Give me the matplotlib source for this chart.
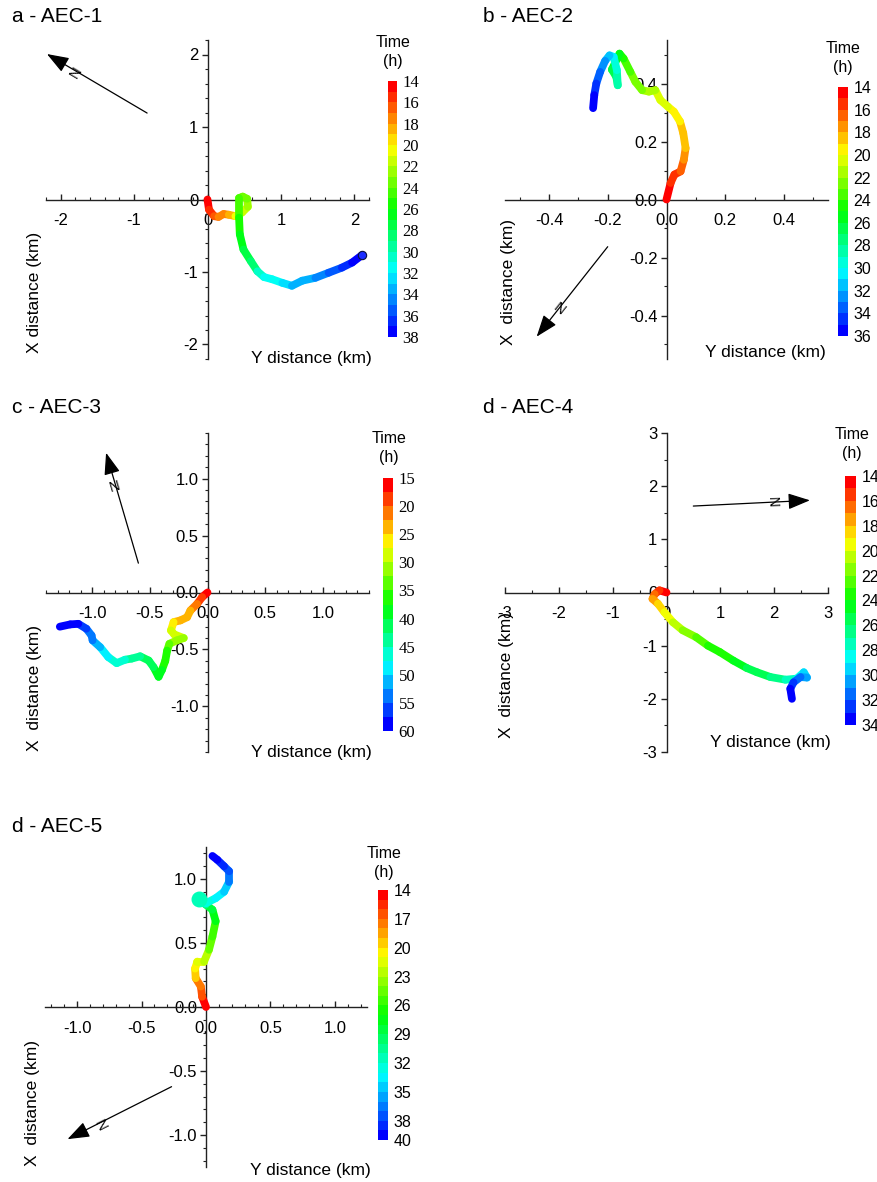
import numpy as np
import matplotlib
matplotlib.use("Agg")
import matplotlib.pyplot as plt
from matplotlib.collections import LineCollection
from matplotlib.colors import ListedColormap, Normalize, hsv_to_rgb
from matplotlib.cm import ScalarMappable
from matplotlib.ticker import MultipleLocator, FormatStrFormatter

plt.rcParams["font.family"] = ["Liberation Sans", "DejaVu Sans"]
plt.rcParams["axes.unicode_minus"] = False

W, H = 877, 1182

# ---- trajectories: Y distance (horizontal), X distance (vertical), time (h)
AEC1_Y = [0, 0.02, 0.09, 0.15, 0.22, 0.29, 0.38, 0.47, 0.55, 0.54, 0.48, 0.43, 0.43, 0.44,
          0.49, 0.59, 0.68, 0.77, 0.88, 1.02, 1.15, 1.29, 1.47, 1.65, 1.83, 1.97, 2.10]
AEC1_X = [0, -0.14, -0.23, -0.24, -0.20, -0.21, -0.23, -0.18, -0.10, 0.01, 0.04, 0.02, -0.25, -0.48,
          -0.69, -0.85, -0.99, -1.07, -1.10, -1.15, -1.19, -1.12, -1.08, -1.01, -0.94, -0.87, -0.77]
AEC1_T = [14, 15, 16, 17, 17.5, 18, 19.5, 20.5, 21.5, 22.5, 23.5, 24, 25, 26,
          27, 28, 29.5, 30.5, 31.5, 32.3, 33, 33.6, 34.2, 35, 36, 37, 38]

AEC2_Y = [0, 0.014, 0.027, 0.048, 0.059, 0.065, 0.057, 0.046, 0.025, 0.005, -0.021, -0.038, -0.06,
          -0.083, -0.106, -0.123, -0.146, -0.16, -0.186, -0.171, -0.166, -0.169, -0.18, -0.194,
          -0.209, -0.226, -0.239, -0.246, -0.25]
AEC2_X = [0, 0.057, 0.086, 0.097, 0.137, 0.177, 0.229, 0.269, 0.303, 0.32, 0.343, 0.377, 0.372,
          0.377, 0.406, 0.44, 0.486, 0.503, 0.448, 0.423, 0.394, 0.446, 0.492, 0.497,
          0.478, 0.44, 0.40, 0.36, 0.315]
AEC2_T = [14, 15, 15.5, 16, 17, 17.5, 18.5, 19, 19.5, 20, 20.5, 21, 21.5,
          22, 22.5, 23, 24, 24.5, 26, 27, 28, 29, 30, 31,
          32, 33, 34, 35, 36]

AEC3_Y = [0, -0.046, -0.09, -0.148, -0.177, -0.235, -0.294, -0.317, -0.288, -0.206, -0.265, -0.33,
          -0.35, -0.366, -0.395, -0.424, -0.468, -0.51, -0.584, -0.657, -0.715, -0.787, -0.86,
          -0.93, -0.996, -1.005, -1.05, -1.12, -1.19, -1.28]
AEC3_X = [0, -0.04, -0.10, -0.158, -0.217, -0.245, -0.26, -0.333, -0.368, -0.40, -0.42, -0.45,
          -0.51, -0.60, -0.68, -0.74, -0.655, -0.597, -0.56, -0.58, -0.59, -0.62, -0.567,
          -0.48, -0.42, -0.377, -0.318, -0.275, -0.28, -0.30]
AEC3_T = [15, 18, 20, 22, 23, 24, 25.5, 27, 28, 30, 31, 32,
          34, 36, 38, 39, 40, 41, 42, 43, 44, 46, 48,
          50, 52, 53, 55, 57, 58.5, 60]

AEC4_Y = [0, -0.13, -0.22, -0.26, -0.16, -0.04, 0.12, 0.30, 0.55, 0.77, 0.99, 1.24, 1.49, 1.68,
          1.93, 2.21, 2.42, 2.55, 2.61, 2.49, 2.36, 2.30, 2.33]
AEC4_X = [0, 0.04, -0.03, -0.12, -0.21, -0.37, -0.56, -0.71, -0.84, -1.0, -1.12, -1.28, -1.42, -1.50,
          -1.59, -1.64, -1.62, -1.50, -1.60, -1.59, -1.69, -1.81, -2.0]
AEC4_T = [14, 15, 16, 17, 18, 19, 20, 21, 22, 22.8, 23.4, 24, 24.7, 25.3,
          26, 27, 28, 29.5, 30, 31, 32, 33, 34]

AEC5_Y = [0, -0.03, -0.04, -0.08, -0.085, -0.067, -0.015, 0.023, 0.05, 0.075, 0.05, -0.002,
          -0.054, -0.002, 0.075, 0.14, 0.18, 0.18, 0.14, 0.088, 0.05]
AEC5_X = [0, 0.08, 0.16, 0.225, 0.30, 0.355, 0.355, 0.447, 0.55, 0.67, 0.76, 0.80,
          0.84, 0.81, 0.85, 0.90, 0.98, 1.06, 1.10, 1.15, 1.18]
AEC5_T = [14, 15, 17, 18.5, 19.5, 20.5, 22, 23.5, 25, 26.5, 28, 30,
          31, 32, 33, 34, 35.5, 37, 38, 39, 40]

# ---- colour bar ticks
CTICKS_1 = list(range(14, 39, 2))
CTICKS_2 = list(range(14, 37, 2))
CTICKS_3 = list(range(15, 61, 5))
CTICKS_4 = list(range(14, 35, 2))
CTICKS_5 = [14, 17, 20, 23, 26, 29, 32, 35, 38, 40]

# ---- layout (pixel boxes in the 877x1182 canvas)
PANELS = [
    dict(title="a - AEC-1", data=(AEC1_Y, AEC1_X, AEC1_T), box=(46, 40, 369, 359), lim=2.2,
         major=1, minor=0.2, fmt="%d", title_xy=(12, 17),
         cbar=(388, 81, 397, 337), crange=(14, 38), cticks=CTICKS_1, nbands=24, cfont="Liberation Serif",
         ctitle_xy=(393, 52), xlabel_xy=(311, 359), ylabel_xy=(35, 292), ylabel="X distance (km)",
         arrow=((0.313, 0.771), (0.003, 0.956)), nlabel=(0.093, 0.90)),
    dict(title="b - AEC-2", data=(AEC2_Y, AEC2_X, AEC2_T), box=(505, 40, 828, 359), lim=0.55,
         major=0.2, minor=0.1, fmt="%.1f", title_xy=(483, 17),
         cbar=(838, 87, 848, 336), crange=(14, 36), cticks=CTICKS_2, nbands=22, cfont="Liberation Sans",
         ctitle_xy=(843, 58), xlabel_xy=(765, 353), ylabel_xy=(508, 282), ylabel="X  distance (km)",
         arrow=((0.318, 0.352), (0.098, 0.07)), nlabel=(0.17, 0.169)),
    dict(title="c - AEC-3", data=(AEC3_Y, AEC3_X, AEC3_T), box=(46, 433, 369, 752), lim=1.4,
         major=0.5, minor=0.1, fmt="%.1f", title_xy=(12, 407),
         cbar=(383, 478, 393, 731), crange=(15, 60), cticks=CTICKS_3, nbands=18, cfont="Liberation Serif",
         ctitle_xy=(389, 448), xlabel_xy=(311, 753), ylabel_xy=(35, 688), ylabel="X  distance (km)",
         arrow=((0.286, 0.592), (0.186, 0.938)), nlabel=(0.214, 0.832)),
    dict(title="d - AEC-4", data=(AEC4_Y, AEC4_X, AEC4_T), box=(505, 433, 828, 752), lim=3.0,
         major=1, minor=0.5, fmt="%d", title_xy=(483, 407),
         cbar=(845, 476, 856, 725), crange=(14, 34), cticks=CTICKS_4, nbands=20, cfont="Liberation Sans",
         ctitle_xy=(852, 444), xlabel_xy=(770, 742), ylabel_xy=(507, 675), ylabel="X  distance (km)",
         arrow=((0.583, 0.771), (0.944, 0.789)), nlabel=(0.826, 0.782)),
    dict(title="d - AEC-5", data=(AEC5_Y, AEC5_X, AEC5_T), box=(45, 847, 367, 1167), lim=1.25,
         major=0.5, minor=0.1, fmt="%.1f", title_xy=(12, 826),
         cbar=(378, 890, 388, 1140), crange=(14, 40), cticks=CTICKS_5, nbands=26, cfont="Liberation Sans",
         ctitle_xy=(384, 863), xlabel_xy=(310, 1170), ylabel_xy=(33, 1103), ylabel="X  distance (km)",
         arrow=((0.393, 0.251), (0.07, 0.087)), nlabel=(0.181, 0.142)),
]


def rect(x0, y0, x1, y1):
    return [x0 / W, 1 - y1 / H, (x1 - x0) / W, (y1 - y0) / H]


def fxy(x, y):
    return x / W, 1 - y / H


def band_cmap(n):
    hues = np.linspace(0, 2 / 3, n)
    hsv = np.stack([hues, np.ones(n), np.ones(n)], axis=1)
    return ListedColormap(hsv_to_rgb(hsv))


def draw_panel(fig, p):
    ax = fig.add_axes(rect(*p["box"]))
    ydist, xdist, t = (np.asarray(a, float) for a in p["data"])
    lo, hi = p["crange"]
    cmap = band_cmap(p["nbands"])
    norm = Normalize(lo, hi)

    pts = np.column_stack([ydist, xdist])
    segs = np.stack([pts[:-1], pts[1:]], axis=1)
    lc = LineCollection(segs, cmap=cmap, norm=norm, linewidths=5.6, capstyle="round",
                        joinstyle="round", zorder=3)
    lc.set_array((t[:-1] + t[1:]) / 2)
    ax.add_collection(lc)

    lim = p["lim"]
    ax.set_xlim(-lim, lim)
    ax.set_ylim(-lim, lim)
    for side in ("top", "right"):
        ax.spines[side].set_visible(False)
    for side in ("left", "bottom"):
        ax.spines[side].set_position(("data", 0))
        ax.spines[side].set_linewidth(1.0)
        ax.spines[side].set_color("#222222")
    ax.patch.set_visible(False)

    for axis in (ax.xaxis, ax.yaxis):
        axis.set_major_locator(MultipleLocator(p["major"]))
        axis.set_minor_locator(MultipleLocator(p["minor"]))
        axis.set_major_formatter(FormatStrFormatter(p["fmt"]))
    ax.tick_params(axis="x", which="both", direction="in", pad=10, labelsize=12, color="#222222")
    ax.tick_params(axis="y", which="both", direction="out", pad=2.5, labelsize=12, color="#222222")
    ax.tick_params(which="major", length=4, width=1.0)
    ax.tick_params(which="minor", length=2.5, width=0.8)

    # north arrow
    (tx, ty), (hx, hy) = p["arrow"]
    ax.annotate("", xy=(hx, hy), xytext=(tx, ty), xycoords="axes fraction",
                textcoords="axes fraction",
                arrowprops=dict(arrowstyle="-|>,head_length=0.9,head_width=0.33", color="black",
                                lw=0.9, shrinkA=0, shrinkB=0, mutation_scale=15))
    bw = p["box"][2] - p["box"][0]
    bh = p["box"][3] - p["box"][1]
    ang = np.degrees(np.arctan2((hy - ty) * bh, (hx - tx) * bw))
    ax.text(*p["nlabel"], "N", transform=ax.transAxes, rotation=ang - 90, ha="center",
            va="center", fontsize=10.5, rotation_mode="anchor")

    # labels and title
    fig.text(*fxy(*p["title_xy"]), p["title"], fontsize=15, ha="left", va="center")
    fig.text(*fxy(*p["xlabel_xy"]), "Y distance (km)", fontsize=12.5, ha="center", va="center")
    fig.text(*fxy(*p["ylabel_xy"]), p["ylabel"], fontsize=12.5, ha="center", va="center",
             rotation=90)

    # colour bar
    cax = fig.add_axes(rect(*p["cbar"]))
    cb = fig.colorbar(ScalarMappable(norm=norm, cmap=cmap), cax=cax)
    cb.outline.set_visible(False)
    cax.invert_yaxis()
    cb.set_ticks(p["cticks"])
    cb.set_ticklabels([str(v) for v in p["cticks"]])
    serif = "Serif" in p["cfont"]
    cax.tick_params(length=0, pad=4, labelsize=12 if serif else 11.5)
    for lab in cax.get_yticklabels():
        lab.set_family(p["cfont"])
    fig.text(*fxy(*p["ctitle_xy"]), "Time\n(h)", fontsize=11.5, ha="center", va="center",
             linespacing=1.3)
    return ax


fig = plt.figure(figsize=(W / 100, H / 100), dpi=100)
axes = [draw_panel(fig, p) for p in PANELS]

# end point of AEC-1 and the slow spot of AEC-5
axes[0].plot(AEC1_Y[-1], AEC1_X[-1], "o", ms=6, mfc="#1a2cff", mec="#0a1040", mew=0.8, zorder=4)
i5 = AEC5_T.index(31)
axes[4].scatter([AEC5_Y[i5]], [AEC5_X[i5]], s=110, color=band_cmap(26)(Normalize(14, 40)(31)),
                zorder=4)

fig.savefig("out.png", dpi=100)
